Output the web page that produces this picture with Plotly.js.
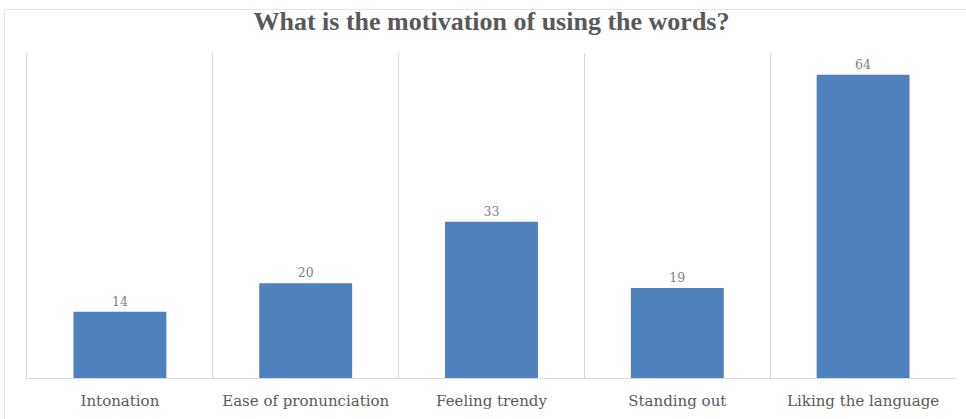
<!DOCTYPE html>
<html>
<head>
<meta charset="utf-8">
<script src="https://cdn.plot.ly/plotly-3.0.1.min.js"></script>
<style>
  html, body { margin: 0; padding: 0; background: #fff; }
  #wrap { position: relative; width: 966px; height: 419px; }
  #chart { position: absolute; left: 0; top: 0; width: 966px; height: 419px; }
  #frame { position: absolute; left: 4px; top: 9px; width: 980px; height: 430px;
           border-left: 1px solid #e6e6e6; border-top: 1px solid #e6e6e6; pointer-events: none; }
</style>
</head>
<body>
<div id="wrap">
  <div id="chart"></div>
  <div id="frame"></div>
</div>
<script>
const categories = ["Intonation", "Ease of pronunciation", "Feeling trendy", "Standing out", "Liking the language"];
const values = [14, 20, 33, 19, 64];
const chartTitle = "What is the motivation of using the words?";

const trace = {
  type: "bar",
  x: categories,
  y: values,
  width: 0.5,
  marker: { color: "#4F81BD", line: { width: 0 } },
  text: values.map(String),
  textposition: "outside",
  cliponaxis: false,
  textfont: { family: "DejaVu Serif, serif", size: 12.5, color: "#7f7f7f" },
  hoverinfo: "none"
};

const layout = {
  width: 966,
  height: 419,
  margin: { l: 27, r: 10, t: 53, b: 41 },
  paper_bgcolor: "rgba(0,0,0,0)",
  plot_bgcolor: "#ffffff",
  showlegend: false,
  title: {
    text: "<b>" + chartTitle + "</b>",
    font: { family: "Liberation Serif, Times New Roman, serif", size: 26, color: "#595959" },
    x: 0.5, xref: "paper", xanchor: "center",
    y: 0.95, yref: "container", yanchor: "middle"
  },
  xaxis: {
    type: "category",
    range: [-0.5, 4.5],
    tickson: "boundaries",
    ticks: "",
    showgrid: true,
    gridcolor: "#d9d9d9",
    gridwidth: 1,
    showline: true,
    linecolor: "#d9d9d9",
    linewidth: 1,
    ticklabelstandoff: 9,
    tickfont: { family: "DejaVu Serif, serif", size: 15, color: "#595959" },
    automargin: false
  },
  yaxis: {
    range: [0, 68.6],
    showgrid: false,
    zeroline: false,
    showline: true,
    linecolor: "#d9d9d9",
    linewidth: 1,
    showticklabels: false,
    ticks: ""
  },
  bargap: 0.5
};

Plotly.newPlot("chart", [trace], layout, { displayModeBar: false, staticPlot: true });
</script>
</body>
</html>
